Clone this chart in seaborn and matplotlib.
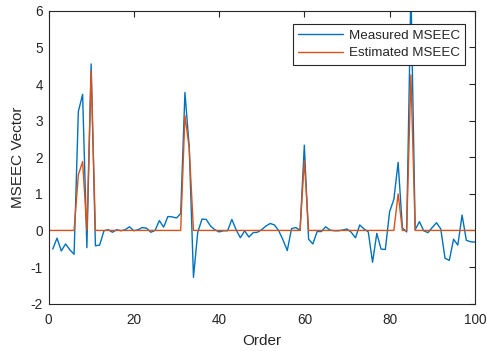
import numpy as np
import pandas as pd
import matplotlib
matplotlib.use("Agg")
import matplotlib.pyplot as plt
import seaborn as sns

# Measured MSEEC, orders 1..100
order_measured = list(range(1, 101))
measured = [
    -0.51, -0.21, -0.56, -0.37, -0.53, -0.65, 3.25, 3.72, -0.47, 4.55,
    -0.42, -0.40, -0.01, 0.02, -0.05, 0.02, -0.01, 0.02, 0.10, -0.01,
    0.02, 0.08, 0.06, -0.05, 0.00, 0.27, 0.09, 0.38, 0.37, 0.34,
    0.46, 3.77, 2.29, -1.28, -0.05, 0.31, 0.30, 0.12, 0.02, -0.04,
    -0.01, -0.01, 0.30, 0.02, -0.20, -0.01, -0.18, -0.06, -0.05, 0.02,
    0.12, 0.19, 0.15, -0.01, -0.26, -0.55, 0.05, 0.08, 0.00, 2.33,
    -0.24, -0.37, -0.03, -0.03, 0.10, 0.01, -0.01, -0.01, 0.01, 0.04,
    -0.05, -0.20, 0.15, 0.04, -0.04, -0.87, -0.08, -0.51, -0.52, 0.51,
    0.85, 1.86, 0.07, -0.04, 6.60, 0.02, 0.24, -0.01, -0.06, 0.08,
    0.21, 0.04, -0.76, -0.82, -0.24, -0.40, 0.42, -0.27, -0.31, -0.32,
]

# Estimated MSEEC, orders 0..100 (non-zero only at the detected peaks)
order_estimated = list(range(0, 101))
estimated_orders = [7, 8, 10, 32, 33, 60, 82, 85]
estimated_values = [1.52, 1.88, 4.36, 3.14, 2.25, 1.91, 1.00, 4.25]

estimated = [0.0] * len(order_estimated)
for o, v in zip(estimated_orders, estimated_values):
    estimated[o] = v

x_ticks = [0, 20, 40, 60, 80, 100]
y_ticks = [-2, -1, 0, 1, 2, 3, 4, 5, 6]

sns.set_style("white")
plt.rcParams["font.family"] = ["Liberation Sans", "DejaVu Sans"]

df_m = pd.DataFrame({"Order": order_measured, "value": measured})
df_e = pd.DataFrame({"Order": order_estimated, "value": estimated})

fig = plt.figure(figsize=(4.87, 3.51), dpi=100)
ax = fig.add_axes([0.0996, 0.135, 0.8755, 0.834])

sns.lineplot(data=df_m, x="Order", y="value", ax=ax, color="#0072BD",
             linewidth=1.0, label="Measured MSEEC")
sns.lineplot(data=df_e, x="Order", y="value", ax=ax, color="#D95319",
             linewidth=1.0, label="Estimated MSEEC")

ax.set_xlim(0, 100)
ax.set_ylim(-2, 6)
ax.set_xticks(x_ticks)
ax.set_yticks(y_ticks)
ax.set_xticklabels([str(t) for t in x_ticks])
ax.set_yticklabels([str(t) for t in y_ticks])
ax.tick_params(direction="in", length=4, width=0.8, top=True, right=True,
               labelsize=9.8, colors="#262626")
ax.tick_params(axis="x", pad=7)
ax.tick_params(axis="y", pad=4)
for s in ax.spines.values():
    s.set_visible(True)
    s.set_color("#262626")
    s.set_linewidth(0.8)

ax.set_xlabel("Order", fontsize=11, color="#262626", labelpad=5)
ax.set_ylabel("MSEEC Vector", fontsize=11, color="#262626", labelpad=4)

leg = ax.legend(loc="upper right", bbox_to_anchor=(0.977, 0.955), fontsize=9.6,
                frameon=True, fancybox=False, borderpad=0.4,
                handlelength=3.4, handletextpad=0.4, labelspacing=0.4,
                borderaxespad=0.0)
leg.get_frame().set_edgecolor("#262626")
leg.get_frame().set_linewidth(0.8)
leg.get_frame().set_alpha(1.0)

fig.savefig("out.png", dpi=100)
